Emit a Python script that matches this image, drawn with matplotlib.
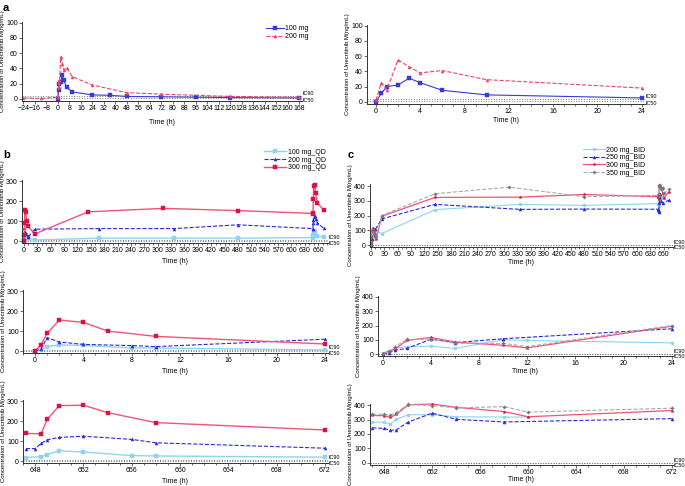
import matplotlib
matplotlib.use('Agg')
import matplotlib.pyplot as plt
from matplotlib.ticker import MultipleLocator, FixedLocator

plt.rcParams['font.family'] = ['Liberation Sans', 'DejaVu Sans']
plt.rcParams['font.size'] = 5

W, H = 685, 486

# panel a: single dose
a_t100 = [0, 0.5, 1, 2, 3, 4, 6, 10, 24, 36, 48, 72, 96, 120, 168]
a_c100 = [0, 11, 20, 22, 31, 25, 15, 9, 5, 4.5, 3, 2.5, 2, 1.5, 1]
a_t200 = [-24, -12, 0, 0.5, 1, 2, 3, 4, 6, 10, 24, 48, 72, 120, 168]
a_c200 = [1, 0.5, 2, 25, 16, 55, 46, 38, 41, 29, 18, 8, 6, 3, 2]

# panel b: QD dosing
b_t100 = [0, 0.5, 1, 2, 4, 8, 10, 24, 168, 336, 480, 647.25, 648.5, 649, 650, 652, 656, 658, 672]
b_c100 = [0, 5, 22, 30, 28, 15, 15, 5, 14, 14, 14, 17, 22, 32, 51, 45, 27, 25, 19]
b_t200 = [0, 0.5, 1, 2, 4, 8, 10, 24, 168, 336, 480, 647.25, 648, 648.5, 649, 650, 652, 656, 658, 672]
b_c200 = [0, 10, 67, 45, 33, 27, 22, 59, 62, 62, 81, 62, 62, 88, 106, 118, 124, 108, 91, 64]
b_t300 = [0, 0.5, 1, 2, 4, 6, 10, 24, 144, 312, 480, 647.25, 648.5, 649, 650, 652, 654, 658, 672]
b_c300 = [0, 32, 88, 155, 143, 100, 73, 35, 146, 163, 152, 138, 136, 208, 277, 279, 242, 192, 155]

# panel c: BID dosing
c_t200 = [0, 0.5, 1, 2, 4, 6, 10, 12, 24, 144, 336, 480, 647, 648, 648.5, 649, 650, 652, 654, 658, 660]
c_c200 = [0, 11, 41, 52, 55, 39, 100, 95, 78, 240, 276, 269, 281, 281, 267, 301, 333, 333, 319, 317, 317]
c_t250 = [0, 0.5, 1, 2, 4, 6, 10, 24, 144, 336, 480, 647, 648, 648.5, 649, 650, 652, 654, 658, 672]
c_c250 = [0, 7, 27, 39, 104, 80, 107, 177, 276, 242, 244, 243, 238, 225, 229, 283, 344, 301, 283, 306]
c_t300 = [0, 0.5, 1, 2, 4, 6, 10, 12, 24, 144, 336, 480, 647, 648, 648.5, 649, 650, 652, 654, 658, 660, 672]
c_c300 = [5, 20, 34, 95, 116, 84, 61, 43, 195, 323, 325, 343, 328, 326, 315, 335, 402, 407, 384, 355, 319, 362]
c_t350 = [0, 0.5, 1, 2, 4, 6, 10, 12, 24, 144, 312, 480, 647, 648, 648.5, 649, 650, 652, 654, 658, 660, 672]
c_c350 = [0, 18, 52, 102, 104, 75, 75, 52, 200, 348, 393, 328, 337, 337, 330, 348, 404, 396, 380, 389, 351, 378]

ic90, ic50 = 3.0, 0.6

a_styles = {
    '100 mg': dict(color='#3a3ad6', ls='-', marker='s'),
    '200 mg': dict(color='#ee4466', ls='--', marker='^'),
}
b_styles = {
    '100 mg_QD': dict(color='#8fd3ef', ls='-', marker='s', lw=1.0),
    '200 mg_QD': dict(color='#2b2bd9', ls='--', marker='^', lw=0.8),
    '300 mg_QD': dict(color='#ee5577', ls='-', marker='s', lw=1.0, mfc='#dd1144', mec='#dd1144'),
}
c_styles = {
    '200 mg_BID': dict(color='#8fd3ef', ls='-', marker='o', lw=0.8),
    '250 mg_BID': dict(color='#2b2bd9', ls='--', marker='^', lw=0.8),
    '300 mg_BID': dict(color='#ee5577', ls='-', marker='*', lw=0.9, mfc='#dd1144', mec='#dd1144'),
    '350 mg_BID': dict(color='#aaaaaa', ls='--', marker='P', lw=0.8, mfc='#777777', mec='#777777'),
}


def px_axes(fig, left, top, right, bottom):
    return fig.add_axes([left / W, 1 - bottom / H, (right - left) / W, (bottom - top) / H])


def style_axes(ax, xlim, ylim, xticks, xmin, ymaj, xlabelpad=1.5):
    ax.set_xlim(*xlim)
    ax.set_ylim(*ylim)
    for s in ['top', 'right']:
        ax.spines[s].set_visible(False)
    for s in ['left', 'bottom']:
        ax.spines[s].set_color('#333333')
        ax.spines[s].set_linewidth(0.7)
    ax.xaxis.set_major_locator(FixedLocator(xticks))
    ax.yaxis.set_major_locator(FixedLocator(list(range(0, int(ylim[1]) + 1, ymaj))))
    if xmin:
        ax.xaxis.set_minor_locator(MultipleLocator(xmin))
    ax.tick_params(which='both', labelsize=5, width=0.5, length=2, pad=1, color='#333333')
    ax.tick_params(which='minor', length=1.2)
    ax.set_xlabel('Time (h)', fontsize=5, labelpad=xlabelpad)
    ax.set_ylabel('Concentration of Unecritinib M(ng/mL)', fontsize=4.3, labelpad=1)
    ax.axhline(ic90, color='#777777', ls=':', lw=0.7, zorder=1)
    ax.axhline(ic50, color='#777777', ls=':', lw=0.7, zorder=1)
    ax.text(1.002, ic90, 'IC90', transform=ax.get_yaxis_transform(), fontsize=4, va='bottom', ha='left')
    ax.text(1.002, ic50, 'IC50', transform=ax.get_yaxis_transform(), fontsize=4, va='top', ha='left')


def draw(ax, series, styles, ms=2.2, lw=0.8):
    for (t, c), (name, st) in zip(series, styles.items()):
        kw = dict(lw=lw, ms=ms, mew=0.3, clip_on=False)
        kw.update(st)
        ax.plot(t, c, label=name, **kw)


def cut(t, c, lo, hi):
    pts = [(x, y) for x, y in zip(t, c) if lo <= x <= hi]
    return [p[0] for p in pts], [p[1] for p in pts]


fig = plt.figure(figsize=(W / 100, H / 100), dpi=100)

# a left
ax = px_axes(fig, 22, 22, 302, 101)
draw(ax, [(a_t100, a_c100), (a_t200, a_c200)], a_styles)
style_axes(ax, (-25, 170), (-3, 101), list(range(-24, 169, 8)), None, 20, 5)
ax.legend(loc='upper left', bbox_to_anchor=(0.86, 1.0), frameon=False, fontsize=5,
          handlelength=2.5, handletextpad=0.2, labelspacing=0.1, borderpad=0)

# a right
ax = px_axes(fig, 367, 25, 645, 104)
draw(ax, [cut(a_t100, a_c100, 0, 24), cut(a_t200, a_c200, 0, 24)], a_styles)
style_axes(ax, (-0.8, 24.3), (-3, 101), list(range(0, 25, 4)), 1, 20)

b_series = [(b_t100, b_c100), (b_t200, b_c200), (b_t300, b_c300)]
c_series = [(c_t200, c_c200), (c_t250, c_c250), (c_t300, c_c300), (c_t350, c_c350)]

# b top
ax = px_axes(fig, 22, 180, 328, 243)
draw(ax, b_series, b_styles)
style_axes(ax, (-4.5, 682), (-10, 305), list(range(0, 661, 30)), 10, 100, 3)
ax.legend(loc='upper left', bbox_to_anchor=(0.78, 1.55), frameon=False, fontsize=5,
          handlelength=3.2, handletextpad=0.2, labelspacing=0.1, borderpad=0)

# b middle
ax = px_axes(fig, 23, 290, 328, 353)
draw(ax, [cut(t, c, 0, 24) for t, c in b_series], b_styles)
style_axes(ax, (-1, 24.25), (-10, 305), list(range(0, 25, 4)), 1, 100, 3)

# b bottom
ax = px_axes(fig, 23, 400, 328, 463)
draw(ax, [cut(t, c, 640, 680) for t, c in b_series], b_styles)
style_axes(ax, (647, 672.25), (-10, 305), list(range(648, 673, 4)), 1, 100, 3)

# c top
ax = px_axes(fig, 370, 184, 673, 247)
draw(ax, c_series, c_styles)
style_axes(ax, (-2.3, 681), (-13, 414), list(range(0, 661, 30)), 10, 100, 0.5)
ax.legend(loc='upper left', bbox_to_anchor=(0.69, 1.65), frameon=False, fontsize=5,
          handlelength=3.2, handletextpad=0.2, labelspacing=0.1, borderpad=0)

# c middle
ax = px_axes(fig, 378, 296, 673, 356)
draw(ax, [cut(t, c, 0, 24) for t, c in c_series], c_styles)
style_axes(ax, (-0.4, 24.1), (-14, 407), list(range(0, 25, 4)), 1, 100, 0.5)

# c bottom
ax = px_axes(fig, 370, 404, 673, 465)
draw(ax, [cut(t, c, 640, 680) for t, c in c_series], c_styles)
style_axes(ax, (646.8, 672.1), (-14, 407), list(range(648, 673, 4)), 1, 100, 0)

fig.text(3 / W, 1 - 8 / H, 'a', fontsize=8, fontweight='bold', va='center')
fig.text(3 / W, 1 - 155 / H, 'b', fontsize=8, fontweight='bold', va='center')
fig.text(348 / W, 1 - 155 / H, 'c', fontsize=8, fontweight='bold', va='center')

fig.savefig('out.png', dpi=100)
